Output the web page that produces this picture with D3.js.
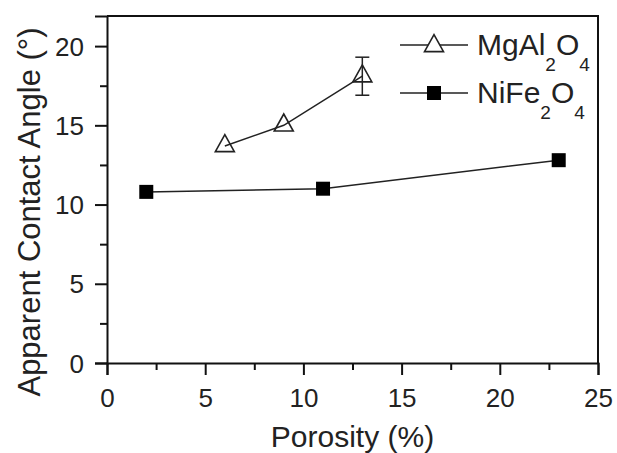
<!DOCTYPE html>
<html>
<head>
<meta charset="utf-8">
<script src="https://cdn.jsdelivr.net/npm/d3@7"></script>
<style>
  html, body { margin: 0; padding: 0; background: #fff; }
  svg { display: block; font-family: "Liberation Sans", Arial, Helvetica, sans-serif; }
</style>
</head>
<body>
<svg id="chart" width="617" height="453"></svg>
<script>
// ---- data ----
const mgPorosity = [6, 9, 13];
const mgAngle = [13.7, 15.0, 18.1];
const mgError = [null, null, 1.2];

const niPorosity = [2, 11, 23];
const niAngle = [10.8, 11.0, 12.8];

const xTicks = [0, 5, 10, 15, 20, 25];
const yTicks = [0, 5, 10, 15, 20];
const xMinorTicks = [2.5, 7.5, 12.5, 17.5, 22.5];
const yMinorTicks = [2.5, 7.5, 12.5, 17.5];

const xTitle = "Porosity (%)";
const yTitle = "Apparent Contact Angle (°)";

// ---- layout ----
(function () {
const svg = d3.select("#chart");
const pL = 107, pR = 598, pT = 16, pB = 363;
const x = d3.scaleLinear().domain([0, 25]).range([pL, pR]);
const y = d3.scaleLinear().domain([0, 21.9]).range([pB, pT]);

const ink = "#111";

// frame (top & right)
svg.append("path")
  .attr("d", `M${pL},${pT}H${pR}V${pB}`)
  .attr("fill", "none").attr("stroke", ink).attr("stroke-width", 2);

// x axis
const xAxis = svg.append("g").attr("transform", `translate(0,${pB})`)
  .call(d3.axisBottom(x).tickValues(xTicks).tickSize(12).tickPadding(10).tickFormat(d3.format("d")));
svg.append("g").attr("transform", `translate(0,${pB})`)
  .call(d3.axisBottom(x).tickValues(xMinorTicks).tickSize(7).tickFormat(""))
  .call(g => g.select(".domain").remove());

// y axis
const yAxis = svg.append("g").attr("transform", `translate(${pL},0)`)
  .call(d3.axisLeft(y).tickValues(yTicks).tickSize(12).tickPadding(10).tickFormat(d3.format("d")));
svg.append("g").attr("transform", `translate(${pL},0)`)
  .call(d3.axisLeft(y).tickValues(yMinorTicks).tickSize(7).tickFormat(""))
  .call(g => g.select(".domain").remove());

svg.selectAll(".domain").attr("stroke", ink).attr("stroke-width", 2);
svg.selectAll(".tick line").attr("stroke", ink).attr("stroke-width", 2);
svg.selectAll(".tick text").attr("fill", "#222").style("font-size", "26px")
  .style("font-family", '"Liberation Sans", Arial, sans-serif');
xAxis.selectAll(".tick text").attr("dy", null).attr("y", 44);
yAxis.selectAll(".tick text").attr("x", -23).attr("dy", "0.35em");

// axis titles
svg.append("text").attr("x", (pL + pR) / 2).attr("y", 447)
  .attr("text-anchor", "middle").attr("fill", "#222")
  .style("font-size", "30px").text(xTitle);
svg.append("text")
  .attr("transform", `translate(40,212) rotate(-90)`)
  .attr("text-anchor", "middle").attr("fill", "#222")
  .style("font-size", "31px").text(yTitle);

// series lines
const line = d3.line().x(d => x(d[0])).y(d => y(d[1]));
const mgData = mgPorosity.map((p, i) => [p, mgAngle[i], mgError[i]]);
const niData = niPorosity.map((p, i) => [p, niAngle[i]]);

svg.append("path").datum(mgData).attr("d", line)
  .attr("fill", "none").attr("stroke", "#222").attr("stroke-width", 1.5);
svg.append("path").datum(niData).attr("d", line)
  .attr("fill", "none").attr("stroke", "#222").attr("stroke-width", 1.5);

// error bars
const eb = svg.append("g").attr("stroke", "#222").attr("stroke-width", 1.5);
mgData.filter(d => d[2] != null).forEach(d => {
  const cx = x(d[0]), y1 = y(d[1] + d[2]), y2 = y(d[1] - d[2]);
  eb.append("line").attr("x1", cx).attr("x2", cx).attr("y1", y1).attr("y2", y2);
  eb.append("line").attr("x1", cx - 7).attr("x2", cx + 7).attr("y1", y1).attr("y2", y1);
  eb.append("line").attr("x1", cx - 7).attr("x2", cx + 7).attr("y1", y2).attr("y2", y2);
});

// markers
const triW = 19, triH = 17;
function triPath(cx, cy) {
  return `M${cx},${cy - 2 * triH / 3}L${cx + triW / 2},${cy + triH / 3}L${cx - triW / 2},${cy + triH / 3}Z`;
}
svg.append("g").selectAll("path").data(mgData).join("path")
  .attr("d", d => triPath(x(d[0]), y(d[1])))
  .attr("fill", "#fff").attr("fill-opacity", 0).attr("stroke", "#222").attr("stroke-width", 1.6);

const sq = 14;
svg.append("g").selectAll("rect").data(niData).join("rect")
  .attr("x", d => x(d[0]) - sq / 2).attr("y", d => y(d[1]) - sq / 2)
  .attr("width", sq).attr("height", sq).attr("fill", "#000");

// legend
const leg = svg.append("g");
const legItems = [
  { name: "MgAl", sub1: "2", mid: "O", sub2: "4", yLine: 45, type: "tri", base: 55 },
  { name: "NiFe", sub1: "2", mid: "O", sub2: "4", yLine: 93, type: "sq", base: 103 }
];
legItems.forEach(it => {
  leg.append("line").attr("x1", 400).attr("x2", 468).attr("y1", it.yLine).attr("y2", it.yLine)
    .attr("stroke", "#222").attr("stroke-width", 1.5);
  if (it.type === "tri") {
    leg.append("path").attr("d", triPath(434, it.yLine + 1)).attr("fill", "#fff")
      .attr("stroke", "#222").attr("stroke-width", 1.6);
  } else {
    leg.append("rect").attr("x", 434 - sq / 2).attr("y", it.yLine - sq / 2)
      .attr("width", sq).attr("height", sq).attr("fill", "#000");
  }
  const t = leg.append("text").attr("x", 477).attr("y", it.base).attr("fill", "#222")
    .style("font-size", "30px");
  t.append("tspan").text(it.name);
  t.append("tspan").attr("dy", 16).style("font-size", "19px").text(it.sub1);
  t.append("tspan").attr("dy", -16).text(it.mid);
  t.append("tspan").attr("dy", 16).style("font-size", "19px").text(it.sub2);
});
})();
</script>
</body>
</html>
